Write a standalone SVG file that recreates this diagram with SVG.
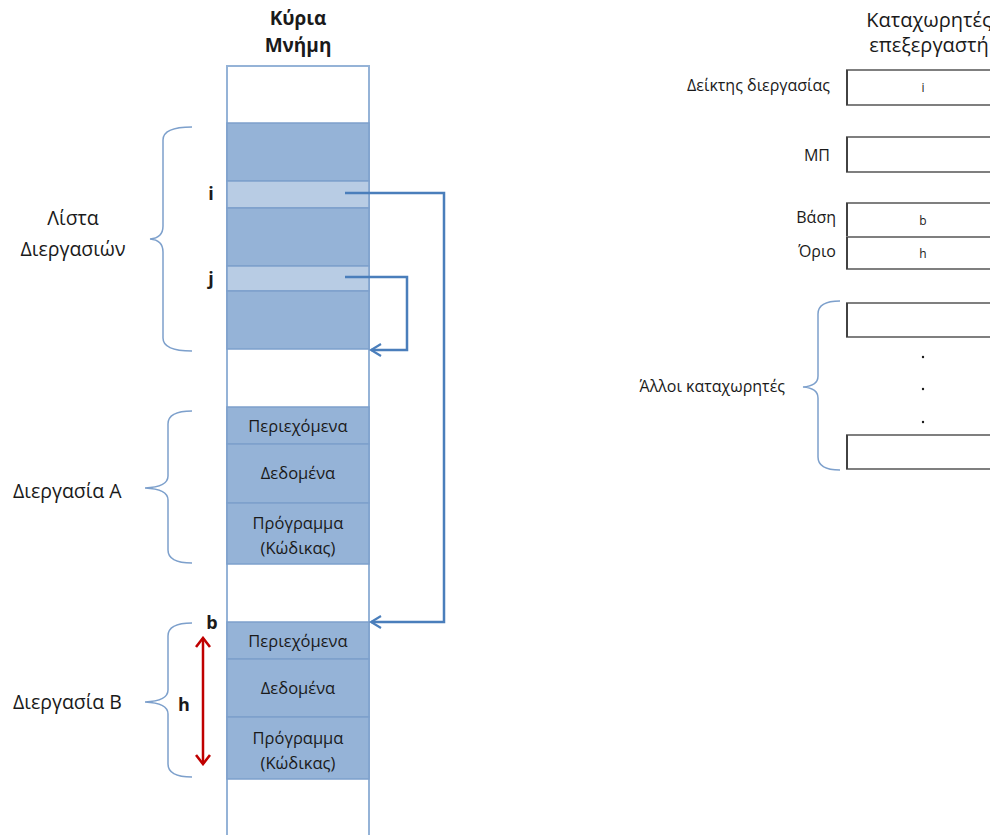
<svg xmlns="http://www.w3.org/2000/svg" width="990" height="835" viewBox="0 0 990 835">
  <defs>
    <style>
      text { font-family: "Open Sans", "Noto Sans", "DejaVu Sans", sans-serif; fill: #1a1a1a; }
      .title { font-size: 19px; }
      .rtitle { font-size: 20px; text-anchor: middle; }
      .bold { font-weight: bold; }
      .cell { font-size: 16.5px; text-anchor: middle; }
      .lbl { font-size: 19.5px; }
      .tag { font-size: 18px; font-weight: bold; }
      .reg { font-size: 16px; }
      .val { font-size: 12px; text-anchor: middle; }
      .dark { fill: #95b3d7; stroke: #7da0cc; stroke-width: 1.5; }
      .light { fill: #b8cce4; stroke: #7da0cc; stroke-width: 1.5; }
      .brace { fill: none; stroke: #7da0cc; stroke-width: 1.5; }
      .link { fill: none; stroke: #4a7ebb; stroke-width: 2.5; }
      .regbox { fill: #ffffff; stroke: #7f7f7f; stroke-width: 2; }
      .regside { stroke: #1a1a1a; stroke-width: 1.2; }
    </style>
    <!-- open chevron pointing along the path direction -->
    <marker id="openHead" viewBox="0 0 14 14" refX="12" refY="7" markerWidth="14" markerHeight="14" markerUnits="userSpaceOnUse" orient="auto">
      <path d="M2,1 L12,7 L2,13" fill="none" stroke="#4a7ebb" stroke-width="2.2"/>
    </marker>
    <marker id="redHead" viewBox="0 0 14 16" refX="12" refY="8" markerWidth="14" markerHeight="16" markerUnits="userSpaceOnUse" orient="auto-start-reverse">
      <path d="M3,1 L12,8 L3,15" fill="none" stroke="#c00000" stroke-width="2.6"/>
    </marker>
  </defs>

  <!-- Main memory column -->
  <g id="memory">
    <text class="title bold" x="298" y="25" text-anchor="middle">Κύρια</text>
    <text class="title bold" x="298" y="52" text-anchor="middle">Μνήμη</text>
    <rect x="227" y="66" width="142" height="780" fill="#ffffff" stroke="#95b3d7" stroke-width="2"/>
  </g>

  <g id="process-list">
    <rect class="dark" x="227" y="123" width="142" height="58"/>
    <rect class="light" x="227" y="181" width="142" height="27"/>
    <rect class="dark" x="227" y="208" width="142" height="58"/>
    <rect class="light" x="227" y="266" width="142" height="25"/>
    <rect class="dark" x="227" y="291" width="142" height="58"/>
    <text class="tag" x="211" y="200" text-anchor="middle">i</text>
    <text class="tag" x="211" y="285" text-anchor="middle">j</text>
    <path class="brace" d="M192,127 Q163,127 163,140 L163,226 Q163,238 150,239 Q163,240 163,252 L163,338 Q163,351 192,351"/>
    <text class="lbl" x="73" y="225" text-anchor="middle">Λίστα</text>
    <text class="lbl" x="73" y="256" text-anchor="middle">Διεργασιών</text>
  </g>

  <g id="process-a">
    <rect class="dark" x="227" y="407" width="142" height="37"/>
    <rect class="dark" x="227" y="444" width="142" height="59"/>
    <rect class="dark" x="227" y="503" width="142" height="61"/>
    <text class="cell" x="298" y="432">Περιεχόμενα</text>
    <text class="cell" x="298" y="479">Δεδομένα</text>
    <text class="cell" x="298" y="529">Πρόγραμμα</text>
    <text class="cell" x="298" y="554">(Κώδικας)</text>
    <path class="brace" d="M192,411 Q168,411 168,424 L168,476 Q168,487 145,488 Q168,489 168,500 L168,550 Q168,563 192,563"/>
    <text class="lbl" x="13" y="498">Διεργασία Α</text>
  </g>

  <g id="process-b">
    <rect class="dark" x="227" y="622" width="142" height="37"/>
    <rect class="dark" x="227" y="659" width="142" height="58"/>
    <rect class="dark" x="227" y="717" width="142" height="62"/>
    <text class="cell" x="298" y="647">Περιεχόμενα</text>
    <text class="cell" x="298" y="694">Δεδομένα</text>
    <text class="cell" x="298" y="744">Πρόγραμμα</text>
    <text class="cell" x="298" y="769">(Κώδικας)</text>
    <path class="brace" d="M192,623 Q168,623 168,636 L168,690 Q168,701 145,702 Q168,703 168,714 L168,764 Q168,777 192,777"/>
    <text class="lbl" x="13" y="709">Διεργασία Β</text>
    <text class="tag" x="212" y="629" text-anchor="middle">b</text>
    <text class="tag" x="184" y="711" text-anchor="middle">h</text>
    <line x1="203" y1="638" x2="203" y2="764" stroke="#c00000" stroke-width="2.5" marker-start="url(#redHead)" marker-end="url(#redHead)"/>
  </g>

  <!-- CPU registers -->
  <g id="registers">
    <text class="rtitle" x="929" y="27">Καταχωρητές</text>
    <text class="rtitle" x="929" y="52">επεξεργαστή</text>
  </g>

  <g id="reg-pid">
    <text class="reg" x="830" y="91" text-anchor="end">Δείκτης διεργασίας</text>
    <rect class="regbox" x="847" y="70" width="160" height="35"/>
    <line class="regside" x1="847" y1="70" x2="847" y2="105"/>
    <text class="val" x="923" y="92">i</text>
  </g>

  <g id="reg-pc">
    <text class="reg" x="830" y="161" text-anchor="end">ΜΠ</text>
    <rect class="regbox" x="847" y="137" width="160" height="35"/>
    <line class="regside" x1="847" y1="137" x2="847" y2="172"/>
  </g>

  <g id="reg-base">
    <text class="reg" x="836" y="223" text-anchor="end">Βάση</text>
    <rect class="regbox" x="847" y="203" width="160" height="34"/>
    <line class="regside" x1="847" y1="203" x2="847" y2="237"/>
    <text class="val" x="923" y="225">b</text>
  </g>

  <g id="reg-limit">
    <text class="reg" x="836" y="257" text-anchor="end">Όριο</text>
    <rect class="regbox" x="847" y="237" width="160" height="32"/>
    <line class="regside" x1="847" y1="237" x2="847" y2="269"/>
    <text class="val" x="923" y="258">h</text>
  </g>

  <g id="reg-others">
    <rect class="regbox" x="847" y="303" width="160" height="34"/>
    <line class="regside" x1="847" y1="303" x2="847" y2="337"/>
    <rect class="regbox" x="847" y="435" width="160" height="34"/>
    <line class="regside" x1="847" y1="435" x2="847" y2="469"/>
    <circle cx="923" cy="357" r="1.2" fill="#1a1a1a"/>
    <circle cx="923" cy="389" r="1.2" fill="#1a1a1a"/>
    <circle cx="923" cy="422" r="1.2" fill="#1a1a1a"/>
    <path class="brace" d="M840,301 Q818,301 818,314 L818,376 Q818,386 803,387 Q818,388 818,398 L818,457 Q818,470 840,470"/>
    <text class="reg" x="785" y="392" text-anchor="end">Άλλοι καταχωρητές</text>
  </g>

  <!-- Pointer connectors -->
  <g id="connectors">
    <path class="link" d="M345,193 L444,193 L444,622 L371,622" marker-end="url(#openHead)"/>
    <path class="link" d="M345,277 L407,277 L407,350 L371,350" marker-end="url(#openHead)"/>
  </g>
</svg>
